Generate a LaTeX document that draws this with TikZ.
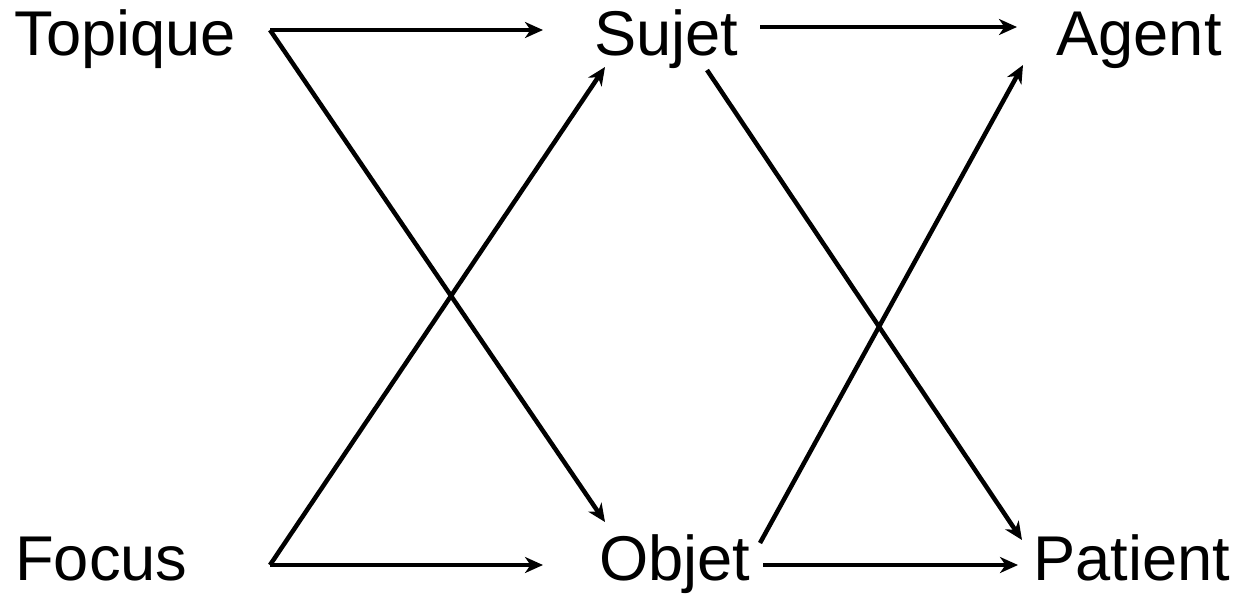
\documentclass[tikz,border=0pt]{standalone}
\usepackage{fontspec}
\setmainfont{Liberation Sans}
\usetikzlibrary{arrows.meta}
\begin{document}
\begin{tikzpicture}[x=0.02cm,y=-0.02cm,
  lbl/.style={anchor=base west,inner sep=0pt,font=\fontsize{36}{42}\selectfont},
  conn/.style={line width=0.09cm,-{Stealth[length=0.36cm,width=0.32cm,inset=0.11cm]}}]
\useasboundingbox (0,0) rectangle (1241,593);
% labels
\node[lbl] (top) at (14,55) {Topique};
\node[lbl] (foc) at (15,580) {Focus};
\node[lbl] (suj) at (594,55) {Sujet};
\node[lbl] (obj) at (599,580) {Objet};
\node[lbl] (age) at (1056,55) {Agent};
\node[lbl] (pat) at (1033,580) {Patient};
% connector end points
\coordinate (topout) at (270,30);
\coordinate (focout) at (270,565);
\coordinate (sujinh) at (543,30);
\coordinate (sujind) at (605,67);
\coordinate (objind) at (605,522);
\coordinate (objinh) at (543,565);
\coordinate (sujouth) at (760,27);
\coordinate (sujoutd) at (707,70);
\coordinate (objoutd) at (760,543);
\coordinate (objouth) at (763,565);
\coordinate (ageinh) at (1017,27);
\coordinate (ageind) at (1023,65);
\coordinate (patind) at (1022,540);
\coordinate (patinh) at (1018,565);
% connectors
\draw[conn] (topout) -- (sujinh);
\draw[conn] (topout) -- (objind);
\draw[conn] (focout) -- (objinh);
\draw[conn] (focout) -- (sujind);
\draw[conn] (sujouth) -- (ageinh);
\draw[conn] (sujoutd) -- (patind);
\draw[conn] (objoutd) -- (ageind);
\draw[conn] (objouth) -- (patinh);
\end{tikzpicture}
\end{document}
